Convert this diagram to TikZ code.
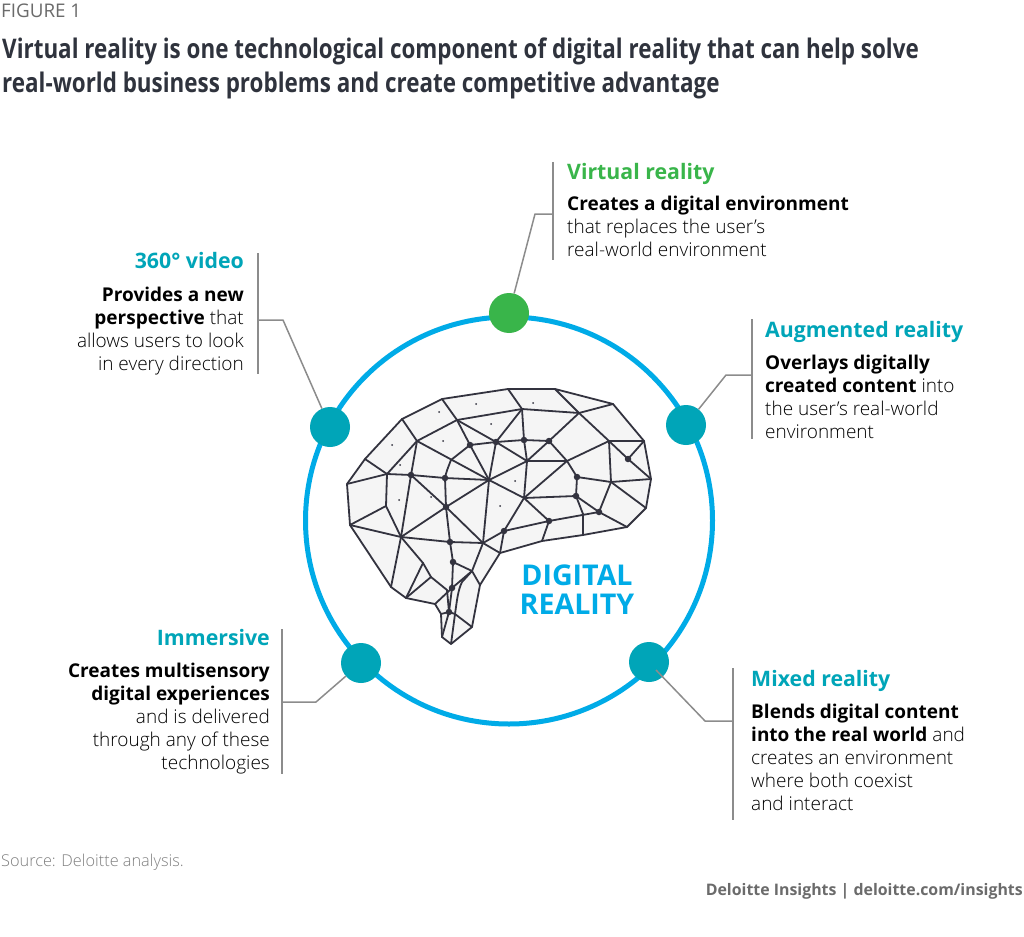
\documentclass[tikz,border=0pt]{standalone}
\usepackage{fontspec}
\setmainfont{Open Sans}
\definecolor{teal}{HTML}{00A5B8}
\definecolor{vrgreen}{HTML}{39B54A}
\definecolor{ringblue}{HTML}{00ABE7}
\definecolor{mesh}{HTML}{33333F}
\definecolor{brainfill}{HTML}{F5F5F5}
\definecolor{leader}{HTML}{8C8C8C}
\definecolor{greytext}{HTML}{6B6B6B}
\definecolor{titleink}{HTML}{2F333D}
\tikzset{
  x=1pt,y=-1pt,
  dotnode/.style={circle,minimum size=40pt,inner sep=0pt,fill=teal},
  lead/.style={draw=leader,line width=1.5pt,line join=round},
  body/.style={inner sep=0pt,font=\fontsize{19}{23}\selectfont,text=black},
  headL/.style={inner sep=0pt,anchor=base west,font=\fontsize{21.3}{25}\selectfont\bfseries,text=teal},
  headR/.style={inner sep=0pt,anchor=base east,font=\fontsize{21.3}{25}\selectfont\bfseries,text=teal},
  edge/.style={draw=mesh,line width=1.8pt,line join=round,line cap=round},
  v/.style={circle,fill=mesh,inner sep=0pt,minimum size=6.5pt},
  c/.style={inner sep=0pt,minimum size=0pt},
  speck/.style={circle,fill=mesh,inner sep=0pt,minimum size=2pt},
  titleline/.style={inner sep=0pt,anchor=base west,font=\fontsize{27}{30}\selectfont\bfseries,text=titleink},
}
\newcommand{\lgt}[1]{{\fontspec{Open Sans Light}#1}}
\begin{document}
\begin{tikzpicture}
\useasboundingbox (0,0) rectangle (1024,936);
\fill[white] (0,0) rectangle (1024,936);

% Header
\node[inner sep=0pt,anchor=base west,font=\fontsize{18.8}{22}\selectfont,text=greytext] (fig) at (1,18) {FIGURE 1};
\node[titleline] (t1) at (2,59) {\scalebox{0.83}[1]{Virtual reality is one technological component of digital reality that can help solve}};
\node[titleline] (t2) at (2,93) {\scalebox{0.83}[1]{real-world business problems and create competitive advantage}};

% Brain silhouette
\fill[brainfill] (347,484) -- (365,459) -- (402,419) -- (442,399) -- (508,389) -- (555,389) -- (613,404) -- (644,441) -- (651,479) -- (646,508) -- (627,527) -- (583,535) -- (542,541) -- (500,553) -- (480,585) -- (472,627) -- (451,644) -- (442,637) -- (441,614) -- (435,604) -- (406,598) -- (391,587) -- (350,525) -- cycle;

% Mesh vertices
\path
 (347,484) node[c] (a) {} (365,459) node[c] (b) {} (402,419) node[c] (cc) {} (442,399) node[c] (d) {}
 (508,389) node[c] (t1a) {} (555,389) node[c] (t2a) {} (613,404) node[c] (t3a) {} (644,441) node[c] (r1) {}
 (651,479) node[c] (r2) {} (646,508) node[c] (r3) {} (627,527) node[c] (r4) {} (583,535) node[c] (ag) {}
 (542,541) node[c] (ah) {} (500,553) node[c] (b1) {} (480,585) node[c] (b2) {} (472,627) node[c] (b3) {}
 (451,644) node[c] (b4) {} (442,637) node[c] (b5) {} (441,614) node[c] (b6) {} (435,604) node[c] (b7) {}
 (406,598) node[c] (b8) {} (391,587) node[c] (b9) {} (350,525) node[c] (q) {}
 (417,441) node[c] (e) {} (457,420) node[c] (f) {} (387,474) node[c] (g) {} (489,480) node[c] (j) {}
 (451,460) node[c] (n) {} (386,506) node[c] (o) {} (401,537) node[c] (p) {}
 (522,409) node[c] (aj) {} (579,413) node[c] (ak) {} (527,461) node[c] (u) {} (567,461) node[c] (vv) {}
 (524,498) node[c] (xx) {} (609,441) node[c] (aa) {} (611,482) node[c] (ac) {} (583,514) node[c] (ai) {}
 (483,543) node[c] (al) {} (472,571) node[c] (ap) {} (423,563) node[c] (m1) {} (431,577) node[c] (m2) {}
 (447,590) node[c] (m3) {} (455,614) node[c] (m4) {} (462,582) node[c] (m5) {};
\path
 (411,475) node[v] (h) {} (445,478) node[v] (i) {} (446,507) node[v] (k) {} (470,445) node[v] (l) {}
 (496,442) node[v] (mm) {} (524,440) node[v] (s) {} (549,441) node[v] (tt) {} (577,477) node[v] (y) {}
 (576,496) node[v] (z) {} (628,459) node[v] (ab) {} (599,512) node[v] (ad) {} (549,521) node[v] (ae) {}
 (504,531) node[v] (af) {} (450,542) node[v] (am) {} (453,562) node[v] (an) {} (452,588) node[v] (ao) {}
 (449,612) node[v] (aq) {};

% Mesh edges
\draw[edge] (a.center) -- (b.center) -- (cc.center) -- (d.center) -- (t1a.center) -- (t2a.center) -- (t3a.center) -- (r1.center) -- (r2.center) -- (r3.center) -- (r4.center) -- (ag.center) -- (ah.center) -- (b1.center) -- (b2.center) -- (b3.center) -- (b4.center) -- (b5.center) -- (b6.center) -- (b7.center) -- (b8.center) -- (b9.center) -- (q.center) -- (a.center);
\foreach \p/\r in {d/f,cc/e,f/e,e/g,b/g,a/g,g/h,h/i,i/j,e/h,e/j,n/l,f/l,l/mm,l/j,mm/j,f/mm,h/k,i/k,k/j,h/p,g/o,o/q,o/p,k/p,q/p,p/b9,
 f/aj,aj/ak,t1a/aj,t2a/ak,t3a/ak,aj/s,aj/mm,mm/s,s/tt,s/u,tt/u,mm/u,u/vv,u/j,u/xx,vv/xx,tt/vv,tt/ak,ak/aa,vv/aa,aa/r1,aa/ac,aa/ab,ab/r1,ab/r2,ac/r2,vv/y,y/z,y/ac,z/xx,z/ad,z/ai,ai/ag,ad/ac,ac/r3,ad/r4,ad/ae,ae/af,ae/ah,ae/xx,xx/af,xx/j,af/b1,af/al,al/b1,k/am,k/al,j/al,p/am,am/al,am/an,an/ao,ao/aq,al/ap,an/ap,ap/b2,ao/ap,ao/b7,m4/aq,m4/b3,aq/b5,m4/b4,aq/b6,b8/m1,b8/m2,m1/m2,p/m1,m2/m3,m3/aq}{
  \draw[edge] (\p.center) -- (\r.center);
}
\draw[edge] (n.center) .. controls (447,470) and (446,473) .. (i.center);
\draw[edge] (ap.center) -- (m5.center) .. controls (458,590) and (457,600) .. (m4.center);
\foreach \sx/\sy [count=\si] in {476/404,533/403,439/412,491/424,392/445,443/441,400/465,399/500,431/497,515/481,500/506}{
  \node[speck] (sp\si) at (\sx,\sy) {};
}

% Ring with its five markers
\node[circle,draw=ringblue,line width=5pt,minimum size=407pt,inner sep=0pt] (ring) at (509,520.5) {};

% Leader lines
\path (553,162) coordinate (vrA) (553,260) coordinate (vrB) (553,214) coordinate (vrC) (535,214) coordinate (vrD);
\path (752,319) coordinate (arA) (752,439) coordinate (arB) (752,375) coordinate (arC) (726,375) coordinate (arD);
\path (258,253) coordinate (vA) (258,374) coordinate (vB) (258,320) coordinate (vC) (283,320) coordinate (vD);
\path (282,629) coordinate (imA) (282,774) coordinate (imB) (282,702) coordinate (imC) (316,702) coordinate (imD);
\path (733,668) coordinate (mrA) (733,820) coordinate (mrB) (733,721) coordinate (mrC) (705,721) coordinate (mrD) (656,670) coordinate (mrE);

\node[circle,minimum size=40pt,inner sep=0pt,fill=vrgreen] (dVR) at (509,313) {};
\node[dotnode] (dAR) at (686,425) {};
\node[dotnode] (dV) at (330,427) {};
\node[dotnode] (dIM) at (361,663) {};
\node[dotnode] (dMR) at (649,662) {};

\draw[lead] (vrA) -- (vrB);
\draw[lead] (vrC) -- (vrD) -- (dVR);
\draw[lead] (arA) -- (arB);
\draw[lead] (arC) -- (arD) -- (dAR);
\draw[lead] (vA) -- (vB);
\draw[lead] (vC) -- (vD) -- (dV);
\draw[lead] (imA) -- (imB);
\draw[lead] (imC) -- (imD) -- (dIM);
\draw[lead] (mrA) -- (mrB);
\draw[lead] (mrC) -- (mrD) -- (mrE);

% Centre label
\node[inner sep=0pt,align=center,font=\fontsize{28.6}{29}\selectfont\bfseries,text=ringblue] (dr) at (577,590) {DIGITAL\\REALITY};

% Callouts
\node[headL,text=vrgreen] (hVR) at (567,179) {Virtual reality};
\node[body,anchor=north west,align=left] (bVR) at (567,196) {\textbf{Creates a digital environment}\\\lgt{that replaces the user’s}\\\lgt{real-world environment}};

\node[headL] (hAR) at (765,337) {Augmented reality};
\node[body,anchor=north west,align=left] (bAR) at (765,354.5) {\textbf{Overlays digitally}\\\textbf{created content} \lgt{into}\\\lgt{the user’s real-world}\\\lgt{environment}};

\node[headR] (hV) at (244,268) {360° video};
\node[body,anchor=north east,align=right] (bV) at (244,286.5) {\textbf{Provides a new}\\\textbf{perspective} \lgt{that}\\\lgt{allows users to look}\\\lgt{in every direction}};

\node[headR] (hIM) at (270,645) {Immersive};
\node[body,anchor=north east,align=right] (bIM) at (270,662.5) {\textbf{Creates multisensory}\\\textbf{digital experiences}\\\lgt{and is delivered}\\\lgt{through any of these}\\\lgt{technologies}};

\node[headL] (hMR) at (751,686) {Mixed reality};
\node[body,anchor=north west,align=left] (bMR) at (751,703.5) {\textbf{Blends digital content}\\\textbf{into the real world} \lgt{and}\\\lgt{creates an environment}\\\lgt{where both coexist}\\\lgt{and interact}};

% Footer
\node[inner sep=0pt,anchor=base west,font=\fontsize{16.3}{18}\selectfont,text=black!50] (src) at (1,866) {\lgt{Source: Deloitte analysis.}};
\node[inner sep=0pt,anchor=base east,font=\fontsize{15.9}{20}\selectfont\bfseries,text=greytext] (ins) at (1023,895) {Deloitte Insights | deloitte.com/insights};
\end{tikzpicture}
\end{document}
